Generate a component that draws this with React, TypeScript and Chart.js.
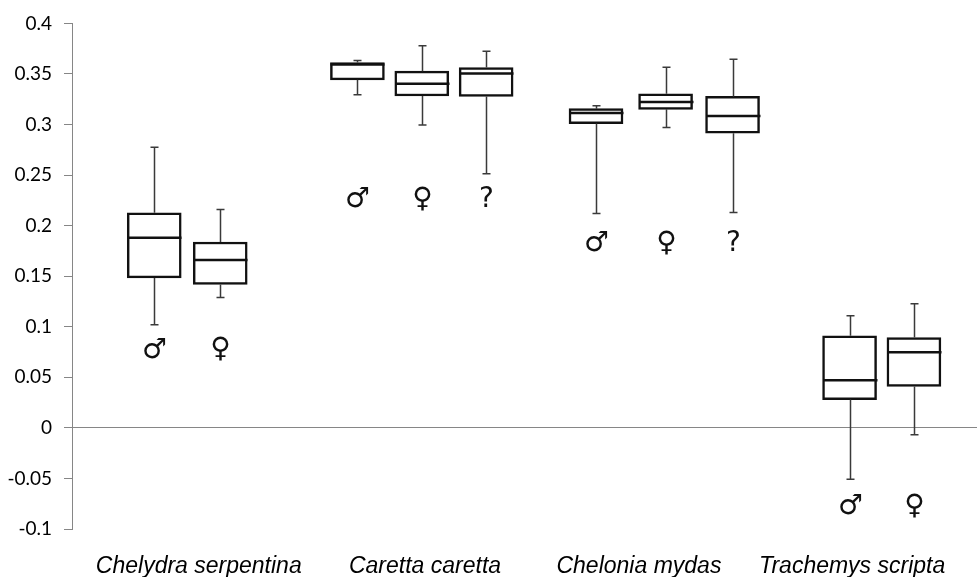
import React, { useEffect, useRef } from "react";
import { Chart, registerables } from "chart.js";

Chart.register(...registerables);

const categories = ["Chelydra serpentina", "Caretta caretta", "Chelonia mydas", "Trachemys scripta"];
const categoryPos = [1.95, 5.43, 8.72, 12.0];
const groupSymbols = ["♂", "♀", "?"];

// one entry per box
const boxGroup = [0, 1, 0, 1, 2, 0, 1, 2, 0, 1];
const boxPos = [1.265, 2.28, 4.39, 5.38, 6.37, 8.06, 9.13, 10.16, 11.96, 12.95];
const whiskerLow = [0.102, 0.129, 0.3295, 0.2996, 0.2514, 0.212, 0.297, 0.213, -0.0508, -0.0068];
const q1 = [0.1483, 0.1418, 0.3442, 0.3282, 0.3278, 0.3009, 0.315, 0.2914, 0.028, 0.041];
const median = [0.1881, 0.166, 0.3593, 0.3403, 0.3505, 0.3114, 0.3222, 0.3085, 0.047, 0.0749];
const q3 = [0.2127, 0.1838, 0.3613, 0.3528, 0.3564, 0.3157, 0.3304, 0.3278, 0.091, 0.0893];
const whiskerHigh = [0.2776, 0.216, 0.3633, 0.378, 0.3724, 0.3186, 0.3567, 0.3646, 0.111, 0.1228];
const symbolY = [0.076, 0.077, 0.226, 0.226, 0.226, 0.182, 0.182, 0.182, -0.0775, -0.0775];

const yTicks = [-0.1, -0.05, 0, 0.05, 0.1, 0.15, 0.2, 0.25, 0.3, 0.35, 0.4];

const boxPlugin = {
  id: "boxExtras",
  afterDatasetsDraw(chart: any) {
    const { ctx } = chart;
    const xs = chart.scales.x;
    const ys = chart.scales.y;
    const half = 27;
    const cap = 4;
    ctx.save();
    for (let i = 0; i < boxPos.length; i++) {
      const cx = Math.round(xs.getPixelForValue(boxPos[i])) + 0.5;
      // whiskers
      ctx.strokeStyle = "#3a3a3a";
      ctx.lineWidth = 1.5;
      ctx.beginPath();
      ctx.moveTo(cx, ys.getPixelForValue(q3[i]));
      ctx.lineTo(cx, ys.getPixelForValue(whiskerHigh[i]));
      ctx.moveTo(cx - cap, ys.getPixelForValue(whiskerHigh[i]));
      ctx.lineTo(cx + cap, ys.getPixelForValue(whiskerHigh[i]));
      ctx.moveTo(cx, ys.getPixelForValue(q1[i]));
      ctx.lineTo(cx, ys.getPixelForValue(whiskerLow[i]));
      ctx.moveTo(cx - cap, ys.getPixelForValue(whiskerLow[i]));
      ctx.lineTo(cx + cap, ys.getPixelForValue(whiskerLow[i]));
      ctx.stroke();
      // median
      ctx.strokeStyle = "#111";
      ctx.lineWidth = 2.5;
      ctx.beginPath();
      const my = ys.getPixelForValue(median[i]);
      ctx.moveTo(cx - half, my);
      ctx.lineTo(cx + half, my);
      ctx.stroke();
      // sex symbol
      ctx.fillStyle = "#111";
      ctx.font = '28px "DejaVu Sans"';
      ctx.textAlign = "center";
      ctx.textBaseline = "middle";
      ctx.fillText(groupSymbols[boxGroup[i]], cx, ys.getPixelForValue(symbolY[i]));
    }
    ctx.restore();
  },
};

export default function App() {
  const ref = useRef<HTMLCanvasElement | null>(null);
  useEffect(() => {
    if (!ref.current) return;
    const chart = new Chart(ref.current, {
      type: "bar",
      data: {
        datasets: [
          {
            data: boxPos.map((x, i) => ({ x, y: [q1[i], q3[i]] })) as any,
            backgroundColor: "#ffffff",
            borderColor: "#111111",
            borderWidth: 2.5,
            borderSkipped: false,
            barThickness: 54,
          },
        ],
      },
      options: {
        responsive: false,
        animation: false,
        layout: { padding: { top: 21, right: 0, left: 0, bottom: 0 } },
        plugins: { legend: { display: false }, tooltip: { enabled: false } },
        scales: {
          x: {
            type: "linear",
            min: 0,
            max: 13.92,
            offset: false,
            border: { display: false },
            grid: { display: false },
            afterBuildTicks: (axis: any) => {
              axis.ticks = categoryPos.map((v) => ({ value: v }));
            },
            afterFit: (scale: any) => {
              scale.height = 48;
            },
            ticks: {
              autoSkip: false,
              maxRotation: 0,
              padding: 16,
              color: "#000",
              font: { family: '"Liberation Sans", Arial, sans-serif', size: 23, style: "italic" },
              callback: (value: any) => {
                const idx = categoryPos.findIndex((v) => Math.abs(v - value) < 1e-6);
                return idx >= 0 ? categories[idx] : "";
              },
            },
          },
          y: {
            type: "linear",
            min: -0.1,
            max: 0.4,
            border: { display: true, color: "#868686", width: 1 },
            grid: {
              drawOnChartArea: true,
              color: (c: any) => (c.tick && Math.abs(c.tick.value) < 1e-9 ? "#868686" : "transparent"),
              tickColor: "#868686",
              tickLength: 8,
              lineWidth: 1,
            },
            afterBuildTicks: (axis: any) => {
              axis.ticks = yTicks.map((v) => ({ value: v }));
            },
            afterFit: (scale: any) => {
              scale.width = 72;
            },
            ticks: {
              padding: 12,
              color: "#000",
              font: { family: "Lato, sans-serif", size: 19 },
              callback: (value: any) => String(Number(Number(value).toFixed(2))),
            },
          },
        },
      },
      plugins: [boxPlugin],
    });
    return () => chart.destroy();
  }, []);
  return (
    <div style={{ position: "absolute", left: 0, top: 0, width: 977, height: 577, background: "#fff" }}>
      <canvas ref={ref} width={977} height={577} style={{ display: "block" }} />
    </div>
  );
}
